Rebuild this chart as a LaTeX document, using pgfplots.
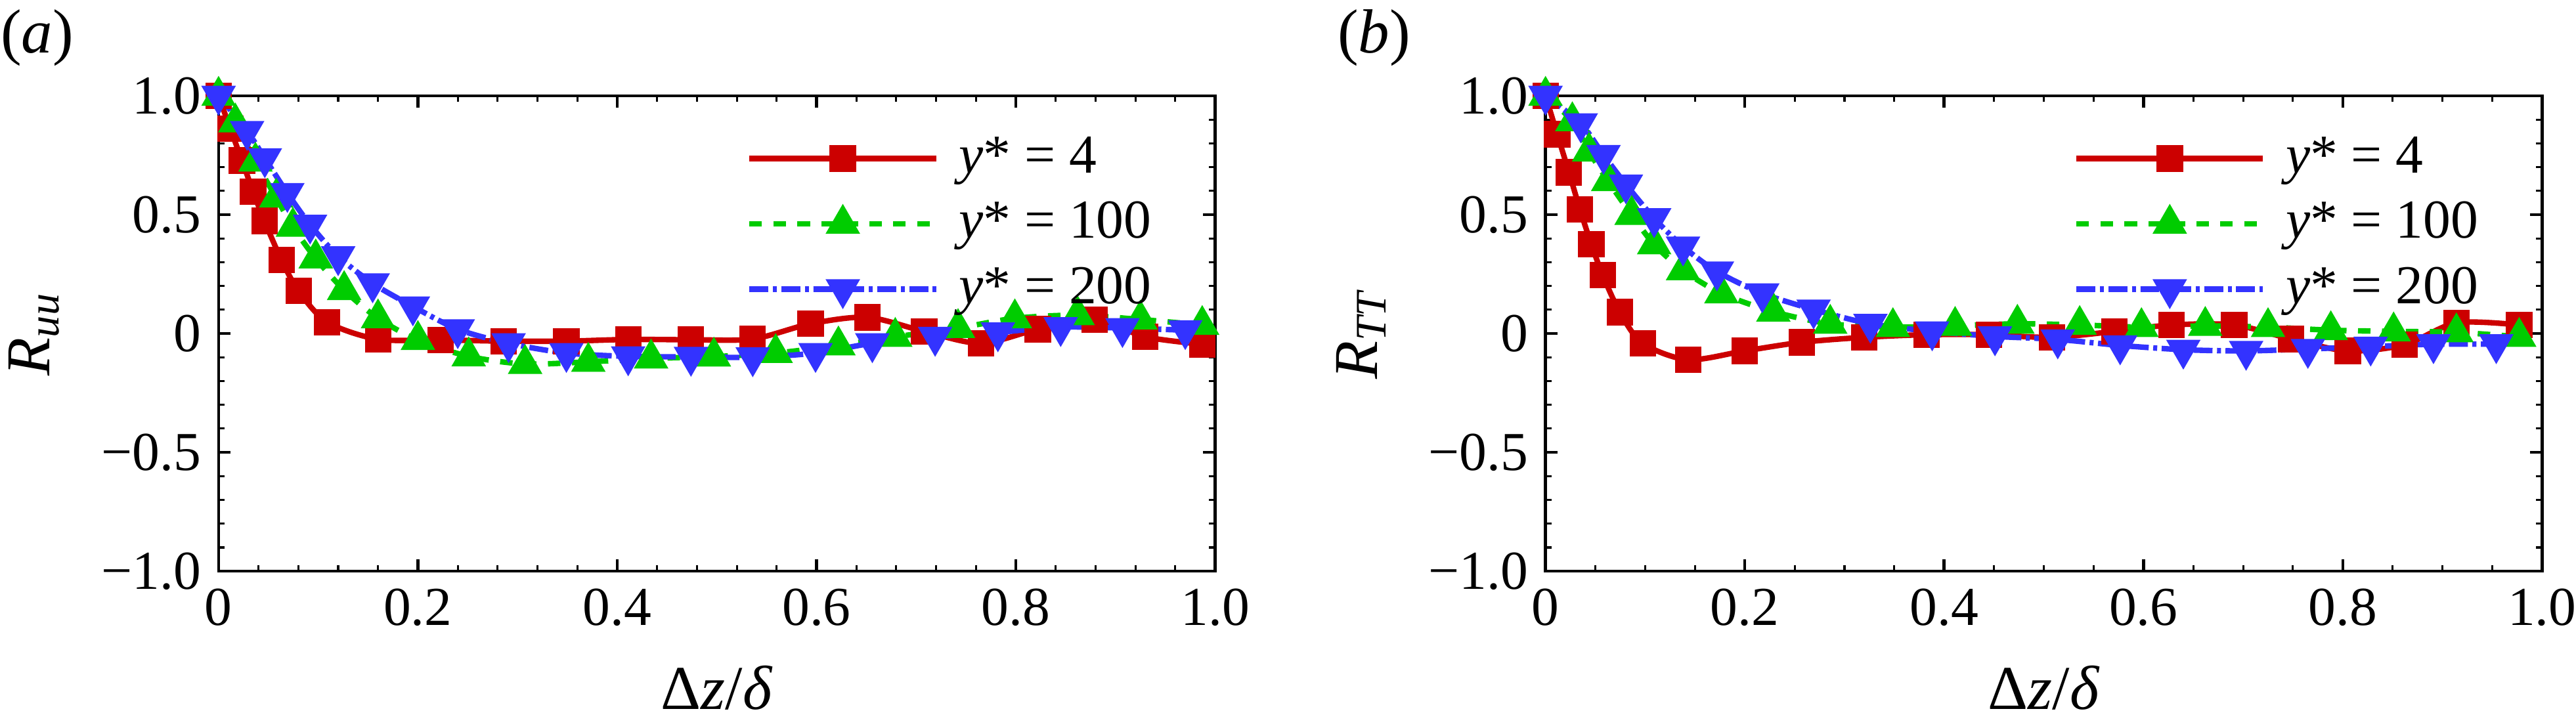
\documentclass[border=0pt]{standalone}
\usepackage{fontspec}
\setmainfont{Liberation Serif}
\usepackage{pgfplots}
\pgfplotsset{compat=1.18}

\definecolor{cred}{RGB}{204,0,0}
\definecolor{cgreen}{RGB}{0,204,0}
\definecolor{cblue}{RGB}{51,51,255}

\pgfplotsset{
  corr/.style={
    width=199.7pt, height=95.3pt, scale only axis,
    xmin=0, xmax=1, ymin=-1, ymax=1,
    xtick={0,0.2,0.4,0.6,0.8,1}, xticklabels={0,0.2,0.4,0.6,0.8,1.0},
    ytick={-1,-0.5,0,0.5,1}, yticklabels={−1.0,−0.5,0,0.5,1.0},
    minor y tick num=4,
    tick align=inside,
    major tick length=2.4pt, minor tick length=1.2pt,
    axis line style={line width=0.6pt},
    major tick style={black, line width=0.6pt},
    minor tick style={black, line width=0.4pt},
    clip=false,
    tick label style={font=\fontsize{11}{13}\selectfont},
    label style={font=\fontsize{12.5}{15}\selectfont},
    xlabel={Δ\textit{z}/\textit{δ}},
    xlabel style={at={(axis description cs:0.5,-0.245)}, anchor=center},
    ylabel style={at={(axis description cs:-0.185,0.5)}, anchor=center},
    legend cell align=left,
    legend style={draw=none, fill=none, inner sep=0pt,
      at={(axis description cs:0.529,0.937)}, anchor=north west,
      font=\fontsize{11}{13}\selectfont, row sep=0.3pt,
      /tikz/every odd column/.append style={column sep=2pt}},
    legend image code/.code={\draw[mark repeat=2,mark phase=2]
      plot coordinates {(0pt,0pt) (18.7pt,0pt) (37.4pt,0pt)};},
  },
  s4/.style={color=cred, line width=1.1pt, smooth, tension=0.5,
    mark=square*, mark size=2.1pt},
  s100/.style={color=cgreen, line width=1.1pt, smooth, tension=0.5,
    dash pattern=on 2.5pt off 2.3pt,
    mark=triangle*, mark size=2.9pt, mark options={solid}},
  s200/.style={color=cblue, line width=1.1pt, smooth, tension=0.5,
    dash pattern=on 3.8pt off 0.9pt on 0.8pt off 0.9pt,
    mark=triangle*, mark size=2.9pt, mark options={solid, rotate=180}},
}

\begin{document}
\begin{tikzpicture}
\path[use as bounding box] (0,0) rectangle (516.2pt,145.8pt);

% (a) streamwise velocity
\begin{axis}[corr, at={(43.8pt,31.3pt)}, anchor=south west,
  minor x tick num=4,
  ylabel={\textit{R}\textsubscript{\textit{uu}}}]
\addplot[s4] coordinates {
  (0,1.0) (0.0118,0.861) (0.0235,0.728) (0.0346,0.597) (0.046,0.474)
  (0.0632,0.309) (0.0803,0.179) (0.109,0.048) (0.160,-0.024) (0.223,-0.027)
  (0.286,-0.032) (0.349,-0.032) (0.411,-0.025) (0.474,-0.026) (0.536,-0.023)
  (0.594,0.041) (0.651,0.068) (0.708,0.009) (0.765,-0.041) (0.822,0.018)
  (0.879,0.059) (0.930,-0.014) (0.987,-0.045)
};
\addlegendentry{\textit{y}* = 4}
\addplot[s100] coordinates {
  (0,1.0) (0.0168,0.888) (0.037,0.723) (0.0578,0.572) (0.0746,0.449)
  (0.0975,0.316) (0.126,0.183) (0.160,0.064) (0.200,-0.027) (0.251,-0.096)
  (0.3076,-0.128) (0.371,-0.119) (0.434,-0.105) (0.497,-0.097) (0.559,-0.082)
  (0.622,-0.05) (0.679,-0.014) (0.742,0.023) (0.799,0.064) (0.862,0.077)
  (0.925,0.059) (0.987,0.036)
};
\addlegendentry{\textit{y}* = 100}
\addplot[s200] coordinates {
  (0,1.0) (0.0286,0.852) (0.0464,0.737) (0.069,0.591) (0.0918,0.458)
  (0.120,0.325) (0.1546,0.211) (0.195,0.114) (0.240,0.018) (0.291,-0.041)
  (0.349,-0.082) (0.411,-0.096) (0.474,-0.098) (0.536,-0.10) (0.599,-0.082)
  (0.656,-0.041) (0.719,-0.014) (0.782,0.005) (0.845,0.027) (0.907,0.023)
  (0.970,0.014)
};
\addlegendentry{\textit{y}* = 200}
\node[font=\fontsize{12.5}{15}\selectfont] at (axis description cs:-0.182,1.122) {(\textit{a})};
\end{axis}

% (b) temperature
\begin{axis}[corr, at={(309.7pt,31.3pt)}, anchor=south west,
  minor x tick num=3,
  ylabel={\textit{R}\textsubscript{\textit{TT}}}]
\addplot[s4] coordinates {
  (0,1.0) (0.0118,0.838) (0.0235,0.678) (0.0346,0.522) (0.046,0.375)
  (0.0575,0.245) (0.0746,0.090) (0.0975,-0.041) (0.143,-0.110) (0.200,-0.073)
  (0.257,-0.037) (0.320,-0.016) (0.3825,-0.005) (0.445,-0.005) (0.508,-0.016)
  (0.571,0.009) (0.628,0.036) (0.691,0.036) (0.748,-0.023) (0.805,-0.073)
  (0.862,-0.047) (0.914,0.045) (0.977,0.036)
};
\addlegendentry{\textit{y}* = 4}
\addplot[s100] coordinates {
  (0,1.0) (0.0269,0.893) (0.0437,0.765) (0.0629,0.641) (0.0864,0.499)
  (0.109,0.375) (0.138,0.266) (0.1765,0.169) (0.2286,0.092) (0.2857,0.041)
  (0.3486,0.027) (0.411,0.032) (0.4735,0.041) (0.536,0.036) (0.598,0.027)
  (0.662,0.032) (0.725,0.027) (0.788,0.014) (0.851,0.009) (0.914,0.005)
  (0.977,-0.014)
};
\addlegendentry{\textit{y}* = 100}
\addplot[s200] coordinates {
  (0,1.0) (0.0353,0.884) (0.0582,0.751) (0.0807,0.627) (0.109,0.485)
  (0.138,0.366) (0.172,0.261) (0.2175,0.169) (0.269,0.101) (0.326,0.041)
  (0.388,0.009) (0.451,-0.012) (0.514,-0.025) (0.5766,-0.05) (0.640,-0.068)
  (0.703,-0.073) (0.765,-0.065) (0.828,-0.055) (0.891,-0.045) (0.954,-0.045)
};
\addlegendentry{\textit{y}* = 200}
\node[font=\fontsize{12.5}{15}\selectfont] at (axis description cs:-0.172,1.122) {(\textit{b})};
\end{axis}
\end{tikzpicture}
\end{document}
